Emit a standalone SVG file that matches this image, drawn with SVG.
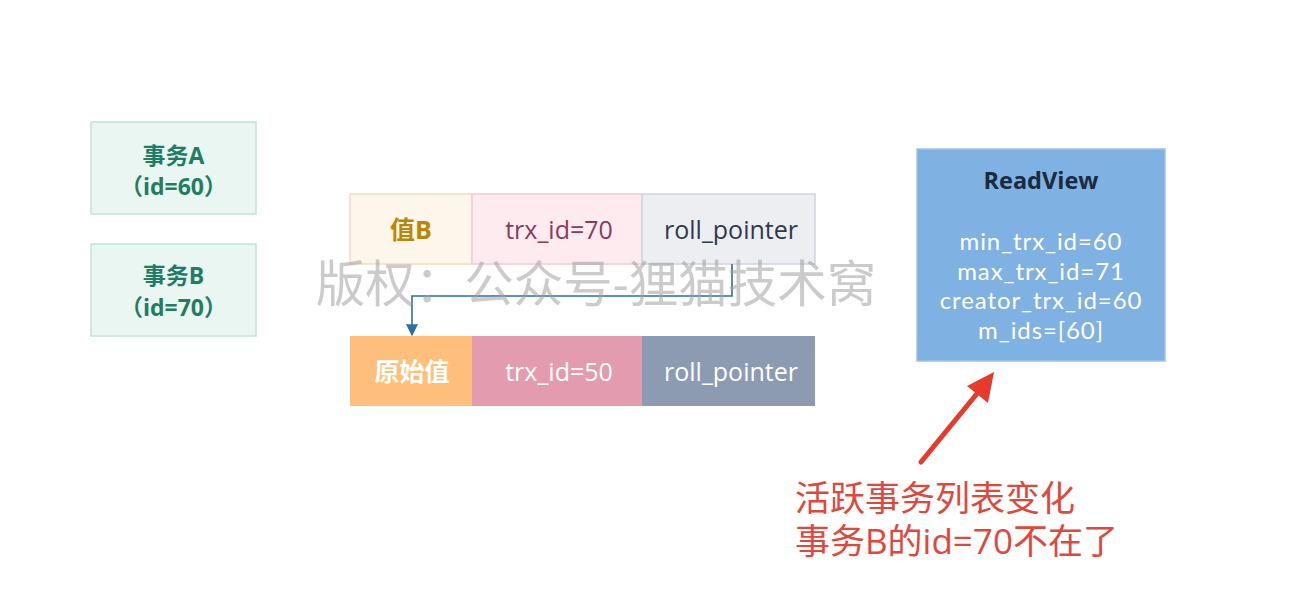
<svg xmlns="http://www.w3.org/2000/svg" width="1296" height="610" viewBox="0 0 1296 610">
<style>
text{font-family:"Open Sans","Noto Sans CJK SC",sans-serif;text-anchor:middle;dominant-baseline:central}
.tx{fill:#e9f6f1;stroke:#c3e3d7;stroke-width:1.5}
.txt{font-size:23px;font-weight:bold;fill:#1f7d63}
.cell{font-size:25px}
.rv{font-family:Lato,"Open Sans",sans-serif;font-size:24px;letter-spacing:0.9px;fill:#ffffff}
.red{font-size:35px;fill:#e2473b;text-anchor:start}
.wm{font-size:49.5px;fill:#a0a0a0;fill-opacity:0.55}
</style>
<defs>
<marker id="ah" viewBox="0 0 10 10" refX="9" refY="5" markerWidth="7.5" markerHeight="7.5" orient="auto" markerUnits="strokeWidth">
<path d="M0,0 L10,5 L0,10 z" fill="#2b6ea6"/>
</marker>
</defs>
<rect width="1296" height="610" fill="#ffffff"/>
<g id="txA">
<rect class="tx" x="91" y="122" width="165" height="92"/>
<text class="txt" x="173.5" y="155">事务A</text>
<text class="txt" x="173.5" y="186">（id=60）</text>
</g>
<g id="txB">
<rect class="tx" x="91" y="244" width="165" height="92"/>
<text class="txt" x="173.5" y="275">事务B</text>
<text class="txt" x="173.5" y="307">（id=70）</text>
</g>
<g id="row1">
<rect x="350" y="194" width="122" height="70" fill="#fff6eb" stroke="#f4dcc0" stroke-width="1.5"/>
<rect x="472" y="194" width="170" height="70" fill="#fdebf0" stroke="#f0ccd7" stroke-width="1.5"/>
<rect x="642" y="194" width="173" height="70" fill="#eceef2" stroke="#cfd4dd" stroke-width="1.5"/>
<text class="cell" x="411" y="229" fill="#b8860b" font-weight="bold">值B</text>
<text class="cell" x="559" y="229" fill="#8a3a5c">trx_id=70</text>
<text class="cell" x="731" y="229" fill="#2f3a4c">roll_pointer</text>
</g>
<g id="row2">
<rect x="350" y="336" width="122" height="70" fill="#fdbf7b"/>
<rect x="472" y="336" width="170" height="70" fill="#e39bb0"/>
<rect x="642" y="336" width="173" height="70" fill="#8c9bb1"/>
<text class="cell" x="412" y="371" fill="#ffffff" font-weight="bold">原始值</text>
<text class="cell" x="559" y="371" fill="#ffffff">trx_id=50</text>
<text class="cell" x="731" y="371" fill="#ffffff">roll_pointer</text>
</g>
<g id="readview">
<rect x="917" y="149" width="248" height="212" fill="#7fb1e2" stroke="#9cc3ea" stroke-width="1.5"/>
<text x="1041" y="180" font-size="23.5" font-weight="bold" fill="#1b2a3e">ReadView</text>
<text class="rv" x="1041" y="240">min_trx_id=60</text>
<text class="rv" x="1041" y="270">max_trx_id=71</text>
<text class="rv" x="1041" y="299.5">creator_trx_id=60</text>
<text class="rv" x="1041" y="329">m_ids=[60]</text>
</g>
<g id="connectors">
<path d="M732,264 V296 H412 V335" fill="none" stroke="#2b6ea6" stroke-width="1.6" marker-end="url(#ah)"/>
<line x1="921" y1="462" x2="980" y2="390" stroke="#e53a2c" stroke-width="5" stroke-linecap="round"/>
<polygon points="994,372 967,386 988,403" fill="#e53a2c"/>
</g>
<g id="note">
<text class="red" x="795" y="497">活跃事务列表变化</text>
<text class="red" x="795" y="540">事务B的id=70不在了</text>
</g>
<text class="wm" x="596" y="283">版权：公众号-狸猫技术窝</text>
</svg>
